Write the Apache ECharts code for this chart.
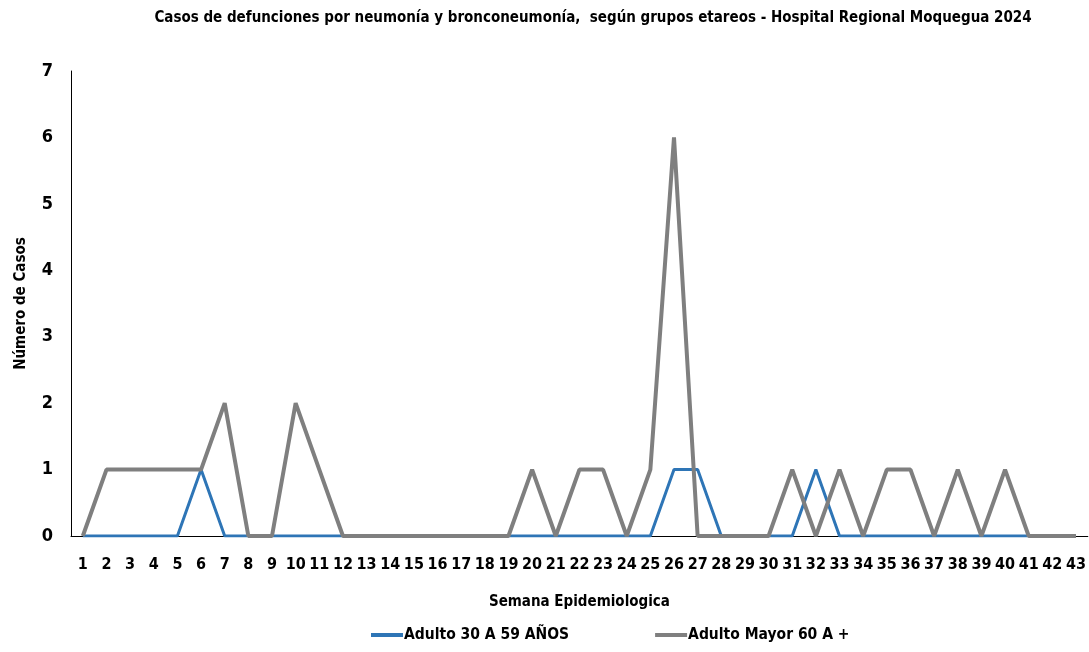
<!DOCTYPE html>
<html>
<head>
<meta charset="utf-8">
<script src="https://cdn.jsdelivr.net/npm/echarts@6/dist/echarts.min.js"></script>
<style>
html,body{margin:0;padding:0;background:#fff;}
#chart{width:1089px;height:652px;}
</style>
</head>
<body>
<div id="chart"></div>
<script>
const weeks = ['1','2','3','4','5','6','7','8','9','10','11','12','13','14','15','16','17','18','19','20','21','22','23','24','25','26','27','28','29','30','31','32','33','34','35','36','37','38','39','40','41','42','43'];
const adulto30a59 = [0,0,0,0,0,1,0,0,0,0,0,0,0,0,0,0,0,0,0,0,0,0,0,0,0,1,1,0,0,0,0,1,0,0,0,0,0,0,0,0,0,0,0];
const adultoMayor60 = [0,1,1,1,1,1,2,0,0,2,1,0,0,0,0,0,0,0,0,1,0,1,1,0,1,6,0,0,0,0,1,0,1,0,1,1,0,1,0,1,0,0,0];
const yTicks = [0,1,2,3,4,5,6,7];

const FONT = '"Liberation Sans Narrow", "DejaVu Sans Condensed", "Roboto", sans-serif';
const chart = echarts.init(document.getElementById('chart'));
chart.setOption({
  backgroundColor: '#ffffff',
  animation: false,
  title: {
    text: 'Casos de defunciones por neumonía y bronconeumonía,  según grupos etareos - Hospital Regional Moquegua 2024',
    left: 588,
    textAlign: 'center',
    top: 6,
    textStyle: {fontFamily: FONT, fontWeight: 'bold', fontSize: 15, color: '#000'}
  },
  legend: {
    bottom: 4,
    left: 366,
    itemGap: 86,
    itemWidth: 32,
    itemHeight: 4,
    icon: 'rect',
    textStyle: {fontFamily: FONT, fontWeight: 'bold', fontSize: 15.5, color: '#000', padding: [0,0,0,-4]},
    data: ['Adulto 30 A 59 AÑOS', 'Adulto Mayor 60 A +']
  },
  grid: {left: 71, right: 0, top: 71, bottom: 116},
  xAxis: {
    type: 'category',
    data: weeks,
    boundaryGap: true,
    name: 'Semana Epidemiologica',
    nameLocation: 'middle',
    nameGap: 59,
    nameTextStyle: {fontFamily: FONT, fontWeight: 'bold', fontSize: 15, color: '#000'},
    axisLine: {lineStyle: {color: '#000', width: 1}},
    axisTick: {show: false},
    axisLabel: {fontFamily: FONT, fontWeight: 'bold', fontSize: 16, color: '#000', margin: 21, interval: 0}
  },
  yAxis: {
    type: 'value',
    min: yTicks[0],
    max: yTicks[yTicks.length - 1],
    interval: 1,
    name: 'Número de Casos',
    nameLocation: 'middle',
    nameGap: 42,
    nameTextStyle: {fontFamily: FONT, fontWeight: 'bold', fontSize: 15, color: '#000'},
    axisLine: {show: true, lineStyle: {color: '#000', width: 1}},
    axisTick: {show: false},
    splitLine: {show: false},
    axisLabel: {fontFamily: FONT, fontWeight: 'bold', fontSize: 18, color: '#000', margin: 18}
  },
  series: [
    {
      name: 'Adulto 30 A 59 AÑOS',
      type: 'line',
      data: adulto30a59,
      symbol: 'none',
      lineStyle: {color: '#2E75B6', width: 3},
      itemStyle: {color: '#2E75B6'},
      z: 2
    },
    {
      name: 'Adulto Mayor 60 A +',
      type: 'line',
      data: adultoMayor60,
      symbol: 'none',
      lineStyle: {color: '#7F7F7F', width: 4},
      itemStyle: {color: '#7F7F7F'},
      z: 3
    }
  ]
});
</script>
</body>
</html>
